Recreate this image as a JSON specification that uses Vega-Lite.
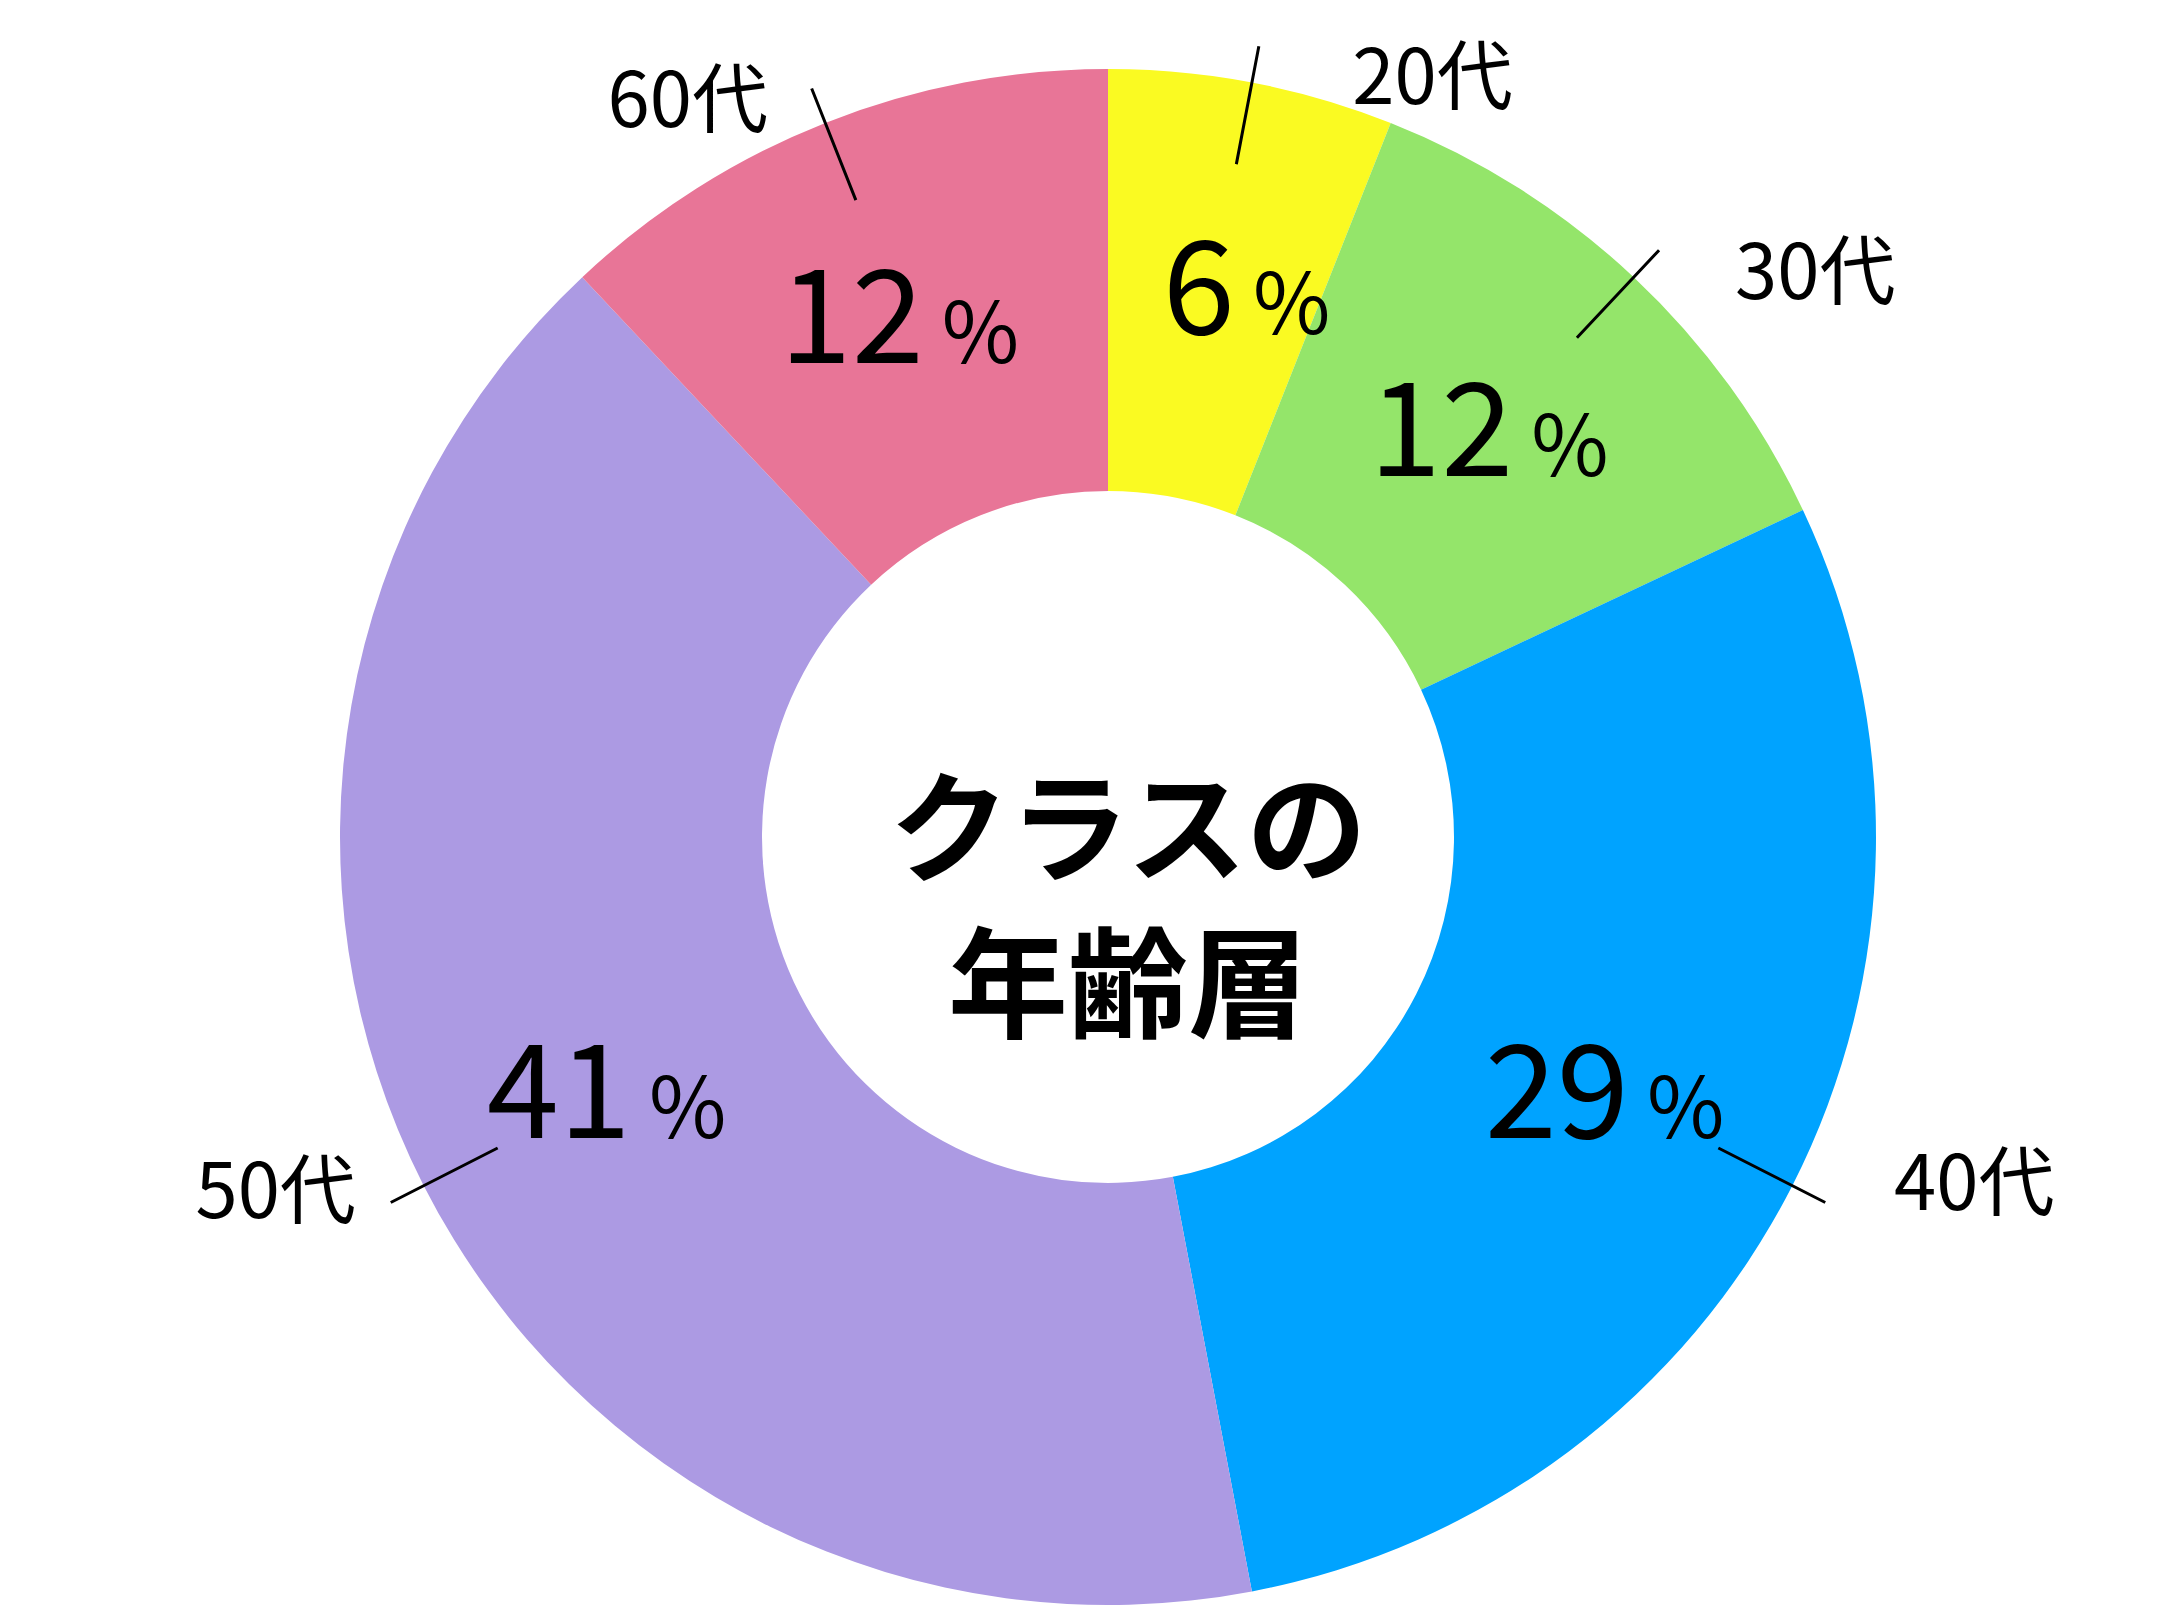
{
  "$schema": "https://vega.github.io/schema/vega-lite/v6.json",
  "width": 2128,
  "height": 1534,
  "autosize": {"type": "none"},
  "padding": {"left": 44, "top": 70, "right": 0, "bottom": 3},
  "background": "#ffffff",
  "config": {"view": {"stroke": null}},
  "data": {
    "values": [
      {"age": "20代", "pct": 6},
      {"age": "30代", "pct": 12},
      {"age": "40代", "pct": 29},
      {"age": "50代", "pct": 41},
      {"age": "60代", "pct": 12}
    ]
  },
  "encoding": {
    "theta": {"field": "pct", "type": "quantitative", "stack": true},
    "order": {"field": "age", "type": "ordinal", "sort": "ascending"}
  },
  "layer": [
    {
      "mark": {"type": "arc", "outerRadius": 768, "innerRadius": 346, "strokeWidth": 0},
      "encoding": {
        "color": {
          "field": "age",
          "type": "nominal",
          "scale": {
            "domain": ["20代", "30代", "40代", "50代", "60代"],
            "range": ["#FAFA22", "#94E56A", "#00A3FF", "#AC9AE3", "#E87597"]
          },
          "legend": null
        }
      }
    },
    {
      "mark": {"type": "arc", "innerRadius": 685, "outerRadius": 805, "padAngle": 3, "filled": false, "stroke": "#000000", "strokeWidth": 3}
    },
    {
      "mark": {"type": "text", "radius": 560, "font": "Noto Sans CJK JP", "fontSize": 130, "align": "right", "baseline": "alphabetic", "dx": 22, "dy": 47, "color": "#000000"},
      "encoding": {"text": {"field": "pct", "type": "quantitative", "format": "d"}}
    },
    {
      "mark": {"type": "text", "radius": 560, "font": "Noto Sans CJK JP", "fontSize": 84, "align": "left", "baseline": "alphabetic", "dx": 40, "dy": 47, "color": "#000000"},
      "encoding": {"text": {"value": "%"}}
    },
    {
      "mark": {"type": "text", "radius": 770, "font": "Noto Sans CJK JP", "fontSize": 76, "align": "left", "baseline": "middle", "dx": 100, "color": "#000000"},
      "encoding": {
        "text": {
          "condition": {"test": "datum.age === '20代' || datum.age === '30代' || datum.age === '40代'", "field": "age", "type": "nominal"},
          "value": ""
        }
      }
    },
    {
      "mark": {"type": "text", "radius": 788, "font": "Noto Sans CJK JP", "fontSize": 76, "align": "right", "baseline": "middle", "dx": -50, "color": "#000000"},
      "encoding": {
        "text": {
          "condition": {"test": "datum.age === '50代' || datum.age === '60代'", "field": "age", "type": "nominal"},
          "value": ""
        }
      }
    },
    {
      "data": {"values": [{"title": "クラスの\n年齢層"}]},
      "mark": {"type": "text", "font": "Noto Sans CJK JP", "fontSize": 120, "fontWeight": "bold", "lineBreak": "\n", "lineHeight": 156, "align": "center", "baseline": "middle", "dx": 20, "color": "#000000"},
      "encoding": {
        "theta": null,
        "order": null,
        "text": {"field": "title", "type": "nominal"}
      }
    }
  ]
}
